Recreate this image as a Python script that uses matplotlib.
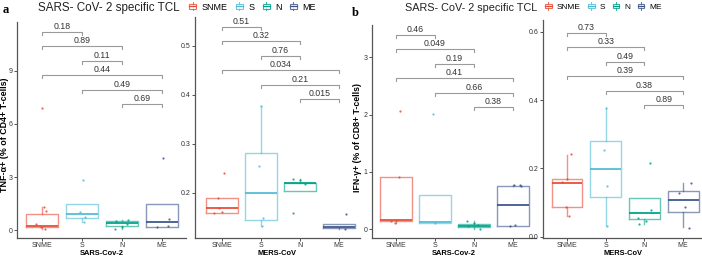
import matplotlib

matplotlib.use("Agg")
import matplotlib.pyplot as plt
from matplotlib.lines import Line2D
from matplotlib.patches import Rectangle
from matplotlib.legend_handler import HandlerBase
from matplotlib import transforms

plt.rcParams["font.family"] = ["Liberation Sans", "DejaVu Sans"]

groups = ["SNME", "S", "N", "ME"]
pairs = [(1, 2), (1, 3), (2, 3), (1, 4), (2, 4), (3, 4)]
colors = ["#E64B35", "#4DBBD5", "#00A087", "#3C5488"]

# box stats per group: (whisker low, q1, median, q3, whisker high)
tnf_sars_box = [(0.07, 0.15, 0.21, 0.89, 1.32), (0.47, 0.66, 0.89, 1.47, 1.47),
                (0.07, 0.23, 0.38, 0.53, 0.55), (0.19, 0.19, 0.44, 1.49, 1.49)]
tnf_sars_pts = [[6.9, 1.32, 1.09, 0.36, 0.15, 0.07], [2.83, 1.04, 0.72, 0.47],
                [0.51, 0.55, 0.32, 0.19, 0.07], [4.06, 0.64, 0.19, 0.21]]
tnf_sars_jit = [[-0.01, 0.06, 0.1, -0.15, -0.02, 0.08], [0.02, -0.05, 0.08, 0.06],
                [-0.15, 0.16, 0.12, 0.0, -0.18], [0.03, 0.18, -0.12, 0.16]]
tnf_sars_p = ["0.18", "0.89", "0.11", "0.44", "0.49", "0.69"]

tnf_mers_box = [(0.158, 0.158, 0.169, 0.189, 0.189), (0.133, 0.144, 0.199, 0.281, 0.378),
                (0.204, 0.204, 0.220, 0.221, 0.229), (0.126, 0.128, 0.130, 0.136, 0.136)]
tnf_mers_pts = [[0.241, 0.189, 0.169, 0.159, 0.161], [0.378, 0.254, 0.148, 0.133],
                [0.229, 0.226, 0.218, 0.159], [0.157, 0.126]]
tnf_mers_jit = [[0.04, -0.1, -0.08, -0.21, 0.0], [0.01, -0.05, 0.05, 0.03],
                [-0.18, -0.01, 0.12, -0.18], [0.18, 0.15]]
tnf_mers_p = ["0.51", "0.32", "0.76", "0.034", "0.21", "0.015"]

ifn_sars_box = [(0.117, 0.146, 0.17, 0.907, 0.907), (0.117, 0.117, 0.12, 0.596, 0.596),
                (0.012, 0.04, 0.058, 0.088, 0.146), (0.058, 0.058, 0.416, 0.76, 0.777)]
ifn_sars_pts = [[2.07, 0.907, 0.146, 0.117, 0.158], [2.02, 0.117],
                [0.146, 0.117, 0.082, 0.053, 0.012], [0.777, 0.772, 0.754, 0.058, 0.07]]
ifn_sars_jit = [[0.11, 0.08, -0.12, -0.03, 0.0], [-0.06, 0.0],
                [-0.18, 0.0, 0.1, -0.15, 0.15], [0.02, 0.17, 0.2, -0.08, 0.04]]
ifn_sars_p = ["0.46", "0.049", "0.19", "0.41", "0.66", "0.38"]

ifn_mers_box = [(0.06, 0.087, 0.158, 0.168, 0.238), (0.031, 0.117, 0.199, 0.28, 0.378),
                (0.037, 0.052, 0.068, 0.113, 0.113), (0.028, 0.073, 0.108, 0.135, 0.158)]
ifn_mers_pts = [[0.241, 0.160, 0.168, 0.087, 0.06], [0.378, 0.253, 0.147, 0.031],
                [0.217, 0.078, 0.055, 0.037, 0.047], [0.157, 0.129, 0.087, 0.024]]
ifn_mers_jit = [[0.1, -0.14, 0.0, -0.03, 0.06], [0.0, -0.05, 0.04, 0.04],
                [0.14, 0.16, -0.16, -0.15, 0.03], [0.2, -0.1, 0.05, 0.16]]
ifn_mers_p = ["0.73", "0.33", "0.49", "0.39", "0.38", "0.89"]

W, H = 702, 258
fig = plt.figure(figsize=(W / 100, H / 100), dpi=100)


def px_axes(left, right, top, bottom):
    return fig.add_axes([left / W, 1 - bottom / H, (right - left) / W, (bottom - top) / H])


def draw_panel(ax, box, pts, jit, pvals, xlim, ylim, yticks, ylabels, xlabel, bracket_top):
    for i, (lo, q1, med, q3, hi) in enumerate(box):
        c = colors[i]
        st = {"whislo": lo, "q1": q1, "med": med, "q3": q3, "whishi": hi}
        ax.bxp([st], positions=[i + 1], widths=0.8, showfliers=False, showcaps=False,
               boxprops=dict(color=c, lw=1.0, alpha=0.6),
               whiskerprops=dict(color=c, lw=1.0, alpha=0.6),
               medianprops=dict(color=c, lw=1.4, alpha=0.9))
        xs = [i + 1 + j for j in jit[i]]
        ax.scatter(xs, pts[i], s=2.5, color=c, alpha=0.85, linewidths=0, zorder=3)
    ax.set_xlim(*xlim)
    ax.set_ylim(*ylim)
    ax.set_xticks(range(1, 5))
    ax.set_xticklabels(groups)
    ax.set_yticks(yticks)
    ax.set_yticklabels(ylabels)
    for s in ["top", "right"]:
        ax.spines[s].set_visible(False)
    for s in ["left", "bottom"]:
        ax.spines[s].set_color("#555555")
        ax.spines[s].set_linewidth(0.9)
    ax.tick_params(labelsize=5, length=2, width=0.6, pad=1.0, colors="#333333")
    ax.set_xlabel(xlabel, fontsize=5.4, fontweight="bold", labelpad=0.8)
    trans = transforms.blended_transform_factory(ax.transData, fig.transFigure)
    for k, ((a, b), p) in enumerate(zip(pairs, pvals)):
        ypx = bracket_top + k * 14.4
        y = 1 - ypx / H
        d = 3 / H
        ax.plot([a, a, b, b], [y - d, y, y, y - d], color="#9a9a9a", lw=0.8,
                transform=trans, clip_on=False)
        ax.text((a + b) / 2, y + 1 / H, p, fontsize=6.3, color="#333333",
                ha="center", va="bottom", transform=trans)


ax1 = px_axes(17, 186, 22, 238)
draw_panel(ax1, tnf_sars_box, tnf_sars_pts, tnf_sars_jit, tnf_sars_p,
           (0.375, 4.6), (-0.45, 11.77), [0, 3, 6, 9], ["0", "3", "6", "9"], "SARS-Cov-2", 32)
ax2 = px_axes(195, 360, 17, 238)
draw_panel(ax2, tnf_mers_box, tnf_mers_pts, tnf_mers_jit, tnf_mers_p,
           (0.308, 4.54), (0.108, 0.559), [0.2, 0.3, 0.4, 0.5], ["0.2", "0.3", "0.4", "0.5"],
           "MERS-CoV", 27)
ax3 = px_axes(372, 536, 25, 238)
draw_panel(ax3, ifn_sars_box, ifn_sars_pts, ifn_sars_jit, ifn_sars_p,
           (0.385, 4.59), (-0.152, 3.565), [0, 1, 2, 3], ["0", "1", "2", "3"], "SARS-Cov-2", 35)
ax4 = px_axes(543, 702, 20, 238)
draw_panel(ax4, ifn_mers_box, ifn_mers_pts, ifn_mers_jit, ifn_mers_p,
           (0.38, 4.49), (-0.004, 0.635), [0.0, 0.2, 0.4, 0.6], ["0.0", "0.2", "0.4", "0.6"],
           "MERS-CoV", 33)

fig.text(4.5 / W, 1 - 135 / H, "TNF-α+ (% of CD4+ T-cells)", rotation=90, fontsize=6.4,
         fontweight="bold", ha="center", va="center")
fig.text(358 / W, 1 - 137 / H, "IFN-γ+ (% of CD8+ T-cells)", rotation=90, fontsize=6.3,
         fontweight="bold", ha="center", va="center")

fig.text(3 / W, 1 - 10 / H, "a", fontsize=9, fontweight="bold", family="Liberation Serif",
         va="center")
fig.text(352 / W, 1 - 13 / H, "b", fontsize=9, fontweight="bold", family="Liberation Serif",
         va="center")

fig.text(38 / W, 1 - 8 / H, "SARS- CoV- 2 specific TCL", fontsize=8.4, va="center",
         color="#222222")
fig.text(405 / W, 1 - 8 / H, "SARS- CoV- 2 specific TCL", fontsize=7.8, va="center",
         color="#222222")


class BoxKey(HandlerBase):
    def create_artists(self, legend, orig_handle, xdescent, ydescent, width, height,
                       fontsize, trans):
        c = orig_handle.get_color()
        x0, y0 = -xdescent, -ydescent
        cx, cy = x0 + width / 2, y0 + height / 2
        whisk = Line2D([cx, cx], [y0 - height * 0.15, y0 + height * 1.15], color=c, lw=0.7,
                       alpha=0.8, transform=trans)
        rect = Rectangle((x0, y0 + height * 0.1), width, height * 0.8, fc="white", ec=c,
                         lw=0.8, alpha=0.8, transform=trans)
        med = Line2D([x0, x0 + width], [cy, cy], color=c, lw=0.9, transform=trans)
        return [whisk, rect, med]


key_handles = [Line2D([], [], color=c) for c in colors]
for x0, fs in [(189, 6.5), (545, 6.0)]:
    fig.legend(key_handles, groups, loc="center left", bbox_to_anchor=(x0 / W, 1 - 7 / H),
               ncol=4, frameon=False, fontsize=fs, handlelength=0.8, handleheight=0.7,
               handletextpad=0.6, columnspacing=0.9, borderpad=0, borderaxespad=0,
               handler_map={Line2D: BoxKey()})

fig.savefig("out.png", dpi=100)
